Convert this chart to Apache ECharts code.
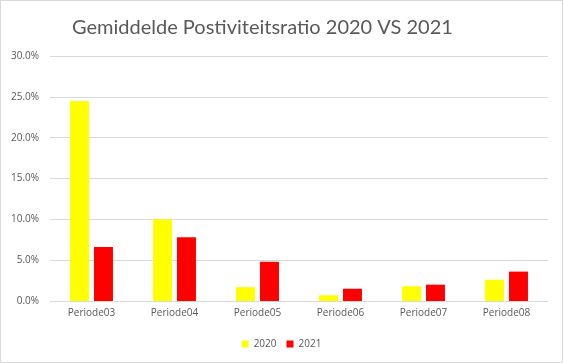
<!DOCTYPE html>
<html><head><meta charset="utf-8">
<script src="https://cdn.jsdelivr.net/npm/echarts@6/dist/echarts.min.js"></script>
<style>
html,body{margin:0;padding:0;background:#fff;}
#c{width:561px;height:361px;border:1px solid #d9d9d9;}
</style></head>
<body><div id="c"></div>
<script>
var categories = ['Periode03','Periode04','Periode05','Periode06','Periode07','Periode08'];
var values2020 = [24.5, 10.0, 1.7, 0.7, 1.8, 2.6];
var values2021 = [6.6, 7.8, 4.8, 1.5, 2.0, 3.6];
var seriesNames = ['2020','2021'];
var chart = echarts.init(document.getElementById('c'));
var txt = '#595959';
chart.setOption({
  animation:false,
  title:{text:'Gemiddelde Postiviteitsratio 2020 VS 2021',left:66,top:12,
    textStyle:{fontFamily:'Lato',fontSize:20,fontWeight:'normal',color:txt}},
  grid:{left:49,right:14,top:55,bottom:61},
  legend:{bottom:8,left:'center',itemWidth:7,itemHeight:7,itemGap:10,icon:'rect',
    textStyle:{fontFamily:'Open Sans',fontSize:10,color:txt},data:seriesNames},
  xAxis:{type:'category',data:categories,
    axisLine:{lineStyle:{color:'#d9d9d9'}},axisTick:{show:false},
    axisLabel:{fontFamily:'Open Sans',fontSize:10,color:txt,margin:7}},
  yAxis:{type:'value',min:0,max:30,interval:5,
    axisLine:{show:false},axisTick:{show:false},
    splitLine:{lineStyle:{color:'#d9d9d9'}},
    axisLabel:{fontFamily:'Open Sans',fontSize:10,color:txt,margin:11,
      formatter:function(v){return v.toFixed(1)+'%';}}},
  series:[
    {name:seriesNames[0],type:'bar',data:values2020,barWidth:19,barGap:'26%',itemStyle:{color:'#ffff00'}},
    {name:seriesNames[1],type:'bar',data:values2021,barWidth:19,barGap:'26%',itemStyle:{color:'#ff0000'}}
  ]
});
</script></body></html>
